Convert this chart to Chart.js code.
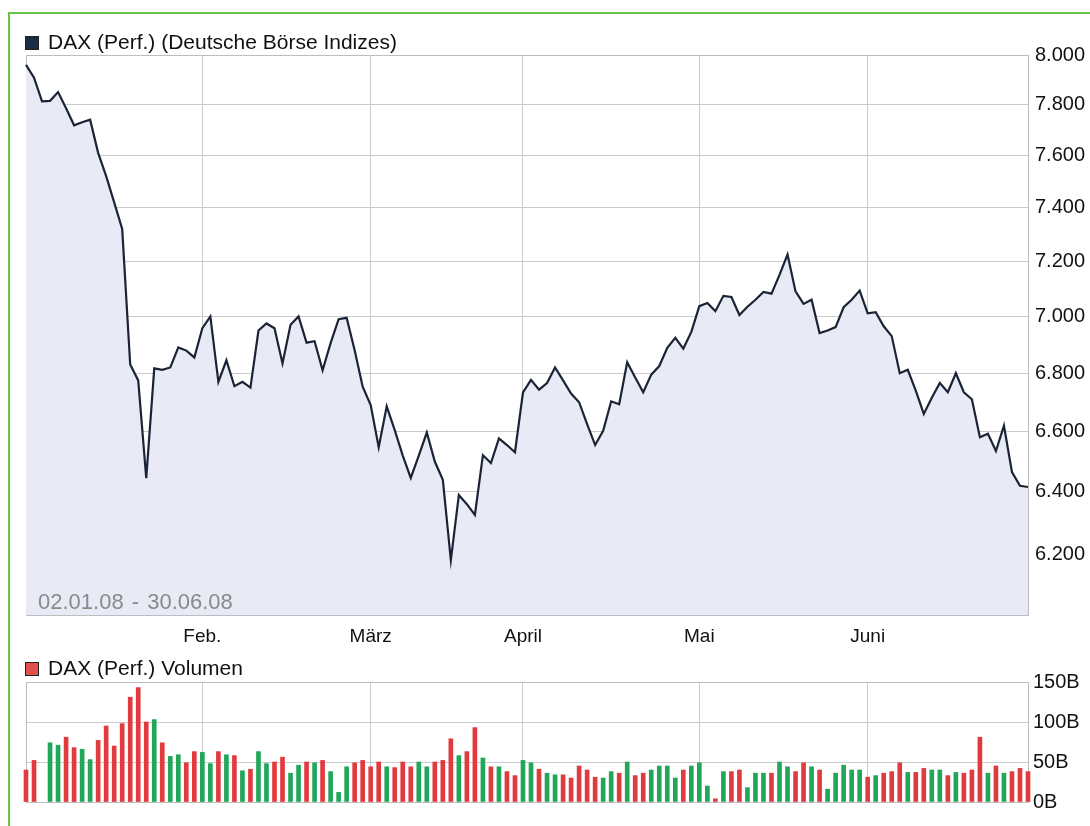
<!DOCTYPE html>
<html>
<head>
<meta charset="utf-8">
<script src="https://cdn.jsdelivr.net/npm/chart.js@4.4.1/dist/chart.umd.min.js"></script>
<style>
  body { margin: 0; background: #fff; font-family: "Liberation Sans", Arial, sans-serif; }
  #wrap { position: relative; width: 1090px; height: 826px; overflow: hidden; background: #fff; }
  #frame { position: absolute; left: 8px; top: 12px; width: 1200px; height: 900px;
           border-left: 2px solid #6cc24a; border-top: 2px solid #6cc24a; }
  canvas { position: absolute; left: 0; }
  #c1 { top: 0; }
  #c2 { top: 650px; }
  .leg { position: absolute; left: 25px; font-size: 21px; color: #111; white-space: nowrap; line-height: 24px; }
  .leg i { display: inline-block; width: 12px; height: 12px; border: 1px solid #222; margin-right: 9px; vertical-align: -1px; }
  #range { position: absolute; left: 38px; top: 590px; font-size: 22px; line-height: 24px; color: #8a8a8a; white-space: nowrap; word-spacing: 2px; }
</style>
</head>
<body>
<div id="wrap">
  <div id="frame"></div>
  <canvas id="c1" width="1090" height="650"></canvas>
  <canvas id="c2" width="1090" height="176"></canvas>
  <div class="leg" style="top:30px"><i style="background:#1d2b45"></i>DAX (Perf.) (Deutsche Börse Indizes)</div>
  <div class="leg" style="top:656px"><i style="background:#e05050"></i>DAX (Perf.) Volumen</div>
  <div id="range">02.01.08 - 30.06.08</div>
</div>
<script>
// Kurse (Schluss) je Handelstag, 02.01.08 - 30.06.08
var dax = [
  7960, 7908, 7813, 7815, 7850, 7785, 7718, 7730, 7740, 7610,
  7520, 7420, 7320, 6830, 6775, 6445, 6817, 6812, 6820, 6890,
  6879, 6855, 6958, 7000, 6770, 6845, 6755, 6770, 6750, 6950,
  6975, 6958, 6834, 6970, 7000, 6907, 6912, 6810, 6905, 6990,
  6995, 6880, 6753, 6690, 6548, 6686, 6605, 6520, 6446, 6520,
  6597, 6500, 6440, 6181, 6390, 6360, 6325, 6521, 6495, 6577,
  6555, 6531, 6734, 6777, 6743, 6766, 6820, 6775, 6730, 6700,
  6625, 6555, 6603, 6703, 6693, 6838, 6785, 6734, 6795, 6825,
  6889, 6924, 6886, 6945, 7037, 7048, 7019, 7074, 7070, 7005,
  7035, 7060, 7088, 7082, 7150, 7225, 7090, 7045, 7060, 6941,
  6950, 6962, 7033, 7060, 7093, 7011, 7015, 6965, 6930, 6800,
  6812, 6740, 6660, 6715, 6766, 6734, 6800, 6734, 6710, 6581,
  6593, 6535, 6620, 6465, 6420, 6416
];

// Volumen in B
var vol = [
  40, 52, null, 74, 71, 81, 68, 66, 53, 77,
  95, 70, 98, 131, 143, 100, 103, 74, 57, 59,
  49, 63, 62, 48, 63, 59, 58, 39, 41, 63,
  48, 50, 56, 36, 46, 50, 49, 52, 38, 12,
  44, 49, 52, 44, 50, 44, 43, 50, 44, 50,
  44, 50, 52, 79, 58, 63, 93, 55, 44, 44,
  38, 33, 52, 49, 41, 36, 34, 34, 30, 45,
  40, 31, 30, 38, 36, 50, 33, 36, 40, 45,
  45, 30, 40, 45, 49, 20, 4, 38, 38, 40,
  18, 36, 36, 36, 50, 44, 38, 49, 44, 40,
  16, 36, 46, 40, 40, 31, 33, 36, 38, 49,
  37, 37, 42, 40, 40, 33, 37, 36, 40, 81,
  36, 45, 36, 38, 42, 38
];

var yTicks = [6200, 6400, 6600, 6800, 7000, 7200, 7400, 7600, 7800, 8000];
var volTicks = [0, 50, 100, 150];
var monthNames = ['Jan.', 'Feb.', 'März', 'April', 'Mai', 'Juni'];
var holidays = ['2008-03-21', '2008-03-24', '2008-05-01'];

// Handelstage
var days = [];
var end = new Date(Date.UTC(2008, 5, 30));
for (var d = new Date(Date.UTC(2008, 0, 2)); d <= end; d.setUTCDate(d.getUTCDate() + 1)) {
  var wd = d.getUTCDay();
  var iso = d.toISOString().slice(0, 10);
  if (wd === 0 || wd === 6 || holidays.indexOf(iso) >= 0) continue;
  days.push(iso);
}

function monthStart(i) {
  return i > 0 && days[i] && days[i].slice(5, 7) !== days[i - 1].slice(5, 7);
}
function fmt(v) {
  return String(v).replace(/\B(?=(\d{3})+$)/, '.');
}

var gridCol = '#cbcbcb';
var frame = {
  id: 'frame',
  beforeDatasetsDraw: function(chart) {
    var a = chart.chartArea, c = chart.ctx;
    c.save();
    c.strokeStyle = '#bdbdbd';
    c.lineWidth = 1;
    c.strokeRect(a.left + 0.5, a.top + 0.5, a.right - a.left, a.bottom - a.top);
    c.restore();
  }
};

Chart.defaults.font.family = '"Liberation Sans", Arial, sans-serif';
Chart.defaults.font.size = 20;
Chart.defaults.color = '#111';

//kurs
var ctx = document.getElementById('c1');
var chartDax = new Chart(ctx, {
  type: 'line',
  data: {
    labels: days,
    datasets: [{
      data: dax,
      borderColor: '#1b2336',
      borderWidth: 2.2,
      backgroundColor: '#e8eaf6',
      fill: 'start',
      pointRadius: 0,
      tension: 0
    }]
  },
  options: {
    responsive: false,
    animation: false,
    layout: { padding: { left: 26, top: 55, right: 0, bottom: 0 } },
    plugins: { legend: { display: false }, tooltip: { enabled: false } },
    scales: {
      x: {
        offset: false,
        border: { display: false },
        grid: {
          drawTicks: false,
          color: function(c) { return monthStart(c.index) ? gridCol : 'rgba(0,0,0,0)'; }
        },
        ticks: {
          autoSkip: false, maxRotation: 0, padding: 10, font: { size: 19 },
          callback: function(v, i) { return monthStart(i) ? monthNames[+days[i].slice(5, 7) - 1] : ''; }
        },
        afterFit: function(s) { s.height = 35; }
      },
      y: {
        type: 'logarithmic',
        position: 'right',
        min: 6010,
        max: 8000,
        afterBuildTicks: function(s) { s.ticks = yTicks.map(function(v) { return { value: v }; }); },
        border: { display: false },
        grid: { color: gridCol, drawTicks: false },
        ticks: { padding: 7, callback: function(v) { return fmt(v); } },
        afterFit: function(s) { s.width = 62; }
      }
    }
  },
  plugins: [frame]
});

//volumen
var ctx = document.getElementById('c2');
var chartVol = new Chart(ctx, {
  type: 'bar',
  data: {
    labels: days,
    datasets: [{
      data: vol,
      backgroundColor: vol.map(function(v, i) { return i > 0 && dax[i] >= dax[i - 1] ? '#22a65a' : '#e23b3f'; }),
      barThickness: 4,
      clip: false
    }]
  },
  options: {
    responsive: false,
    animation: false,
    layout: { padding: { left: 26, top: 32, right: 0, bottom: 24 } },
    plugins: { legend: { display: false }, tooltip: { enabled: false } },
    scales: {
      x: {
        offset: false,
        border: { display: false },
        grid: {
          offset: false,
          drawTicks: false,
          color: function(c) { return monthStart(c.index) ? gridCol : 'rgba(0,0,0,0)'; }
        },
        ticks: { display: false },
        afterFit: function(s) { s.height = 0; }
      },
      y: {
        position: 'right',
        min: 0,
        max: 150,
        afterBuildTicks: function(s) { s.ticks = volTicks.map(function(v) { return { value: v }; }); },
        border: { display: false },
        grid: { color: gridCol, drawTicks: false },
        ticks: { padding: 5, callback: function(v) { return v + 'B'; } },
        afterFit: function(s) { s.width = 62; }
      }
    }
  },
  plugins: [frame]
});
</script>
</body>
</html>
